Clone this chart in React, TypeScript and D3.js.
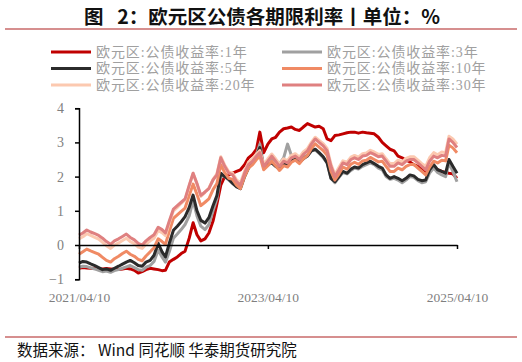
import { useEffect, useRef } from 'react';
import * as d3 from 'd3';

const WIDTH = 522;
const HEIGHT = 362;
const PLOT = { left: 79, right: 457, top: 108.2, bottom: 279.2 };

const SERIF = '"Liberation Serif", "Noto Sans CJK SC", serif';
const SANS = '"Noto Sans CJK SC", "Noto Sans", sans-serif';

// semi-monthly sampling: 10th and 25th of every month, Apr 2021 .. Apr 2025
const dates: Date[] = [
  ...d3.timeMonth
    .range(new Date(2021, 3, 1), new Date(2025, 3, 1))
    .flatMap((m) => [
      new Date(m.getFullYear(), m.getMonth(), 10),
      new Date(m.getFullYear(), m.getMonth(), 25),
    ]),
  new Date(2025, 3, 10),
];

const yield1y = [
  -0.68, -0.66, -0.67, -0.68, -0.69, -0.7, -0.7, -0.69, -0.7, -0.71,
  -0.72, -0.7, -0.68, -0.7, -0.74, -0.82, -0.78, -0.72, -0.68, -0.7,
  -0.72, -0.75, -0.74, -0.5, -0.42, -0.35, -0.25, -0.18, 0.2, 0.65,
  0.3, 0.12, 0.18, 0.35, 0.7, 1.2, 1.75, 2.0, 2.05, 2.1,
  2.15, 2.2, 2.35, 2.55, 2.65, 2.8, 3.3, 2.7, 2.95, 3.1,
  3.15, 3.3, 3.4, 3.42, 3.45, 3.38, 3.35, 3.45, 3.55, 3.5,
  3.45, 3.47, 3.4, 3.1, 3.05, 3.2, 3.22, 3.25, 3.28, 3.3,
  3.3, 3.27, 3.3, 3.28, 3.27, 3.25, 3.15, 3.0, 2.9, 2.8,
  2.75, 2.6, 2.55, 2.48, 2.43, 2.35, 2.3, 2.25, 2.15, 2.2,
  2.25, 2.2, 2.15, 2.12, 2.1, 2.08, 1.95,
];

const yield3y = [
  -0.65, -0.62, -0.63, -0.67, -0.7, -0.74, -0.78, -0.76, -0.8, -0.75,
  -0.72, -0.68, -0.64, -0.6, -0.66, -0.72, -0.74, -0.65, -0.6, -0.48,
  -0.15, -0.35, -0.5, -0.2, 0.2, 0.32, 0.45, 0.6, 0.85, 1.3,
  0.85, 0.55, 0.45, 0.6, 1.0, 1.35, 2.05, 2.0, 1.9, 1.8,
  1.72, 1.7, 2.05, 2.3, 2.45, 2.65, 2.95, 2.3, 2.45, 2.55,
  2.45, 2.38, 2.55, 2.95, 2.62, 2.55, 2.48, 2.58, 2.62, 2.75,
  2.78, 2.68, 2.55, 2.4, 1.95, 1.82, 1.98, 2.12, 2.08, 2.18,
  2.25, 2.22, 2.3, 2.35, 2.4, 2.35, 2.25, 2.2, 2.0, 1.92,
  1.95, 1.9, 1.82, 1.9, 2.0, 1.98, 1.88, 1.82, 1.85, 2.1,
  2.25, 2.12, 2.05, 2.0, 2.4, 2.15, 1.85,
];

const yield5y = [
  -0.53, -0.48, -0.5, -0.55, -0.6, -0.66, -0.72, -0.7, -0.74, -0.68,
  -0.62, -0.56, -0.5, -0.45, -0.52, -0.6, -0.62, -0.5, -0.45, -0.3,
  0.05, -0.2, -0.35, 0.05, 0.43, 0.55, 0.68, 0.83, 1.1, 1.46,
  1.0, 0.72, 0.64, 0.8, 1.15, 1.45, 2.1, 2.0, 1.92, 1.8,
  1.7, 1.65, 2.0, 2.25, 2.4, 2.6, 2.85, 2.25, 2.35, 2.4,
  2.3, 2.22, 2.35, 2.38, 2.48, 2.5, 2.42, 2.52, 2.6, 2.75,
  2.8, 2.7, 2.58, 2.4, 1.95, 1.85, 2.0, 2.15, 2.1, 2.22,
  2.28, 2.25, 2.35, 2.4, 2.45, 2.38, 2.3, 2.25, 2.05, 1.95,
  2.0, 1.95, 1.88, 1.95, 2.05, 2.02, 1.92, 1.88, 1.9, 2.2,
  2.35, 2.2, 2.15, 2.1, 2.5, 2.3, 2.1,
];

const yield10y = [
  -0.27, -0.2, -0.12, -0.17, -0.22, -0.27, -0.36, -0.45, -0.5, -0.4,
  -0.33, -0.25, -0.18, -0.27, -0.33, -0.42, -0.46, -0.32, -0.2, -0.08,
  0.18, 0.1, 0.02, 0.4, 0.78, 0.88, 0.98, 1.08, 1.45, 1.78,
  1.48, 1.15, 1.25, 1.35, 1.62, 1.8, 2.35, 2.12, 1.95, 1.92,
  1.75, 1.65, 2.0, 2.25, 2.35, 2.5, 2.6, 2.2, 2.32, 2.45,
  2.32, 2.18, 2.32, 2.28, 2.42, 2.48, 2.38, 2.52, 2.62, 2.82,
  2.96, 2.86, 2.76, 2.62, 2.15, 1.9, 2.08, 2.28, 2.22, 2.36,
  2.42, 2.36, 2.46, 2.48, 2.56, 2.5, 2.43, 2.45, 2.3, 2.15,
  2.15, 2.25, 2.2, 2.3, 2.35, 2.36, 2.25, 2.15, 2.05, 2.28,
  2.45, 2.4, 2.48, 2.46, 2.92, 2.84, 2.7,
];

const yield20y = [
  0.18, 0.24, 0.33, 0.28, 0.22, 0.17, 0.08, -0.02, -0.1, 0.0,
  0.06, 0.13, 0.2, 0.1, 0.04, -0.06, -0.1, 0.02, 0.12, 0.2,
  0.42, 0.36, 0.27, 0.65, 1.0, 1.1, 1.22, 1.32, 1.72, 2.1,
  1.78, 1.42, 1.54, 1.66, 1.92, 2.08, 2.58, 2.34, 2.14, 2.1,
  1.9, 1.82, 2.16, 2.42, 2.52, 2.66, 2.76, 2.36, 2.52, 2.66,
  2.52, 2.37, 2.52, 2.47, 2.62, 2.67, 2.57, 2.72, 2.82, 3.0,
  3.15, 3.06, 2.96, 2.82, 2.36, 2.06, 2.27, 2.46, 2.42, 2.57,
  2.62, 2.57, 2.67, 2.69, 2.77, 2.72, 2.65, 2.67, 2.52, 2.38,
  2.38, 2.48, 2.43, 2.53, 2.58, 2.58, 2.48, 2.38, 2.3, 2.55,
  2.7, 2.64, 2.72, 2.7, 3.18, 3.1, 2.95,
];

const yield30y = [
  0.29, 0.35, 0.44, 0.38, 0.33, 0.28, 0.2, 0.1, 0.02, 0.12,
  0.18, 0.25, 0.32, 0.22, 0.15, 0.05, 0.0, 0.12, 0.22, 0.3,
  0.52, 0.45, 0.35, 0.7, 1.05, 1.15, 1.25, 1.35, 1.75, 2.1,
  1.8, 1.45, 1.55, 1.65, 1.9, 2.05, 2.55, 2.3, 2.1, 2.05,
  1.85, 1.75, 2.1, 2.35, 2.45, 2.6, 2.7, 2.3, 2.45, 2.6,
  2.45, 2.3, 2.45, 2.4, 2.55, 2.6, 2.5, 2.65, 2.75, 2.95,
  3.1, 3.0, 2.9, 2.75, 2.3, 2.0, 2.2, 2.4, 2.35, 2.5,
  2.55, 2.5, 2.6, 2.62, 2.7, 2.65, 2.58, 2.6, 2.45, 2.3,
  2.3, 2.4, 2.35, 2.45, 2.5, 2.5, 2.4, 2.3, 2.2, 2.45,
  2.6, 2.55, 2.62, 2.6, 3.1, 3.0, 2.85,
];

const seriesNames = [
  '欧元区:公债收益率:1年',
  '欧元区:公债收益率:3年',
  '欧元区:公债收益率:5年',
  '欧元区:公债收益率:10年',
  '欧元区:公债收益率:20年',
  '欧元区:公债收益率:30年',
];
const seriesValues = [yield1y, yield3y, yield5y, yield10y, yield20y, yield30y];
const seriesColors = ['#c00000', '#a0a0a0', '#2b2b2b', '#f08a64', '#fcc9b0', '#df8080'];

const yTicks = [-1, 0, 1, 2, 3, 4];
const xTickDates = [new Date(2021, 3, 10), new Date(2023, 3, 10), new Date(2025, 3, 10)];

const fmtDate = d3.timeFormat('%Y/%m/%d');

export default function App() {
  const yAxisRef = useRef<SVGGElement>(null);
  const xAxisRef = useRef<SVGGElement>(null);

  const x = d3
    .scaleTime()
    .domain([new Date(2021, 3, 10), new Date(2025, 3, 10)])
    .range([PLOT.left, PLOT.right]);
  const y = d3.scaleLinear().domain([-1, 4]).range([PLOT.bottom, PLOT.top]);

  const line = d3
    .line<number>()
    .x((_, i) => x(dates[i]))
    .y((v) => y(v));

  useEffect(() => {
    if (!yAxisRef.current || !xAxisRef.current) return;

    const yAxis = d3
      .axisLeft(y)
      .tickValues(yTicks)
      .tickFormat(d3.format('d'))
      .tickSize(4)
      .tickSizeOuter(4)
      .tickPadding(11);
    const yg = d3.select(yAxisRef.current).call(yAxis);
    yg.select('.domain').attr('stroke', '#000').attr('stroke-width', 1.5);
    yg.selectAll('.tick line').attr('stroke', '#000').attr('stroke-width', 1.5);
    yg.selectAll('.tick text')
      .attr('fill', '#7f7f7f')
      .attr('font-family', SERIF)
      .attr('font-size', 14);

    const xAxis = d3
      .axisBottom(x)
      .tickValues(xTickDates)
      .tickFormat((d) => fmtDate(d as Date))
      .tickSize(4)
      .tickSizeOuter(0)
      .tickPadding(43);
    const xg = d3.select(xAxisRef.current).call(xAxis);
    xg.select('.domain').attr('stroke', '#000').attr('stroke-width', 1.5);
    xg.selectAll('.tick line').attr('stroke', '#000').attr('stroke-width', 1.5);
    xg.selectAll('.tick text')
      .attr('fill', '#7f7f7f')
      .attr('font-family', SERIF)
      .attr('font-size', 13.5);
  }, []);

  const legendRows = [52, 68.5, 85];
  const legendCols = [51, 282];

  return (
    <div style={{ position: 'fixed', left: 0, top: 0 }}>
      <svg width={WIDTH} height={HEIGHT} viewBox={`0 0 ${WIDTH} ${HEIGHT}`} style={{ display: 'block', background: '#fff' }}>
        <text
          x={262}
          y={24}
          textAnchor="middle"
          fontFamily={SANS}
          fontWeight={700}
          fontSize={19.5}
          fill="#111"
        >
          {'图\u2002\u20092：欧元区公债各期限利率丨单位：%'}
        </text>
        <line x1={5} x2={517} y1={29} y2={29} stroke="#c96a6a" strokeWidth={1.5} />

        {/* legend */}
        {seriesNames.map((name, i) => {
          const cx = legendCols[i % 2];
          const cy = legendRows[Math.floor(i / 2)];
          return (
            <g key={name}>
              <line x1={cx} x2={cx + 40} y1={cy} y2={cy} stroke={seriesColors[i]} strokeWidth={3} />
              <text
                x={cx + 45}
                y={cy + 4.8}
                fontFamily={SERIF}
                fontSize={14}
                letterSpacing={0.9}
                fill="#a0a0a0"
              >
                {name}
              </text>
            </g>
          );
        })}

        {/* series */}
        {seriesValues.map((vals, i) => (
          <path
            key={seriesNames[i]}
            d={line(vals) ?? ''}
            fill="none"
            stroke={seriesColors[i]}
            strokeWidth={3}
            strokeLinejoin="round"
          />
        ))}

        <g ref={xAxisRef} transform={`translate(0,${y(0)})`} />
        <g ref={yAxisRef} transform={`translate(${PLOT.left},0)`} />

        <line x1={5} x2={517} y1={337} y2={337} stroke="#c96a6a" strokeWidth={1.5} />
        <text x={17} y={355.5} fontFamily={SANS} fontSize={15.5} fill="#111">
          数据来源： Wind 同花顺 华泰期货研究院
        </text>
      </svg>
    </div>
  );
}
